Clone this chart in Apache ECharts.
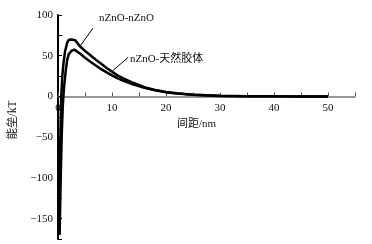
<!DOCTYPE html>
<html>
<head>
<meta charset="utf-8">
<script src="https://cdn.jsdelivr.net/npm/echarts@6/dist/echarts.min.js"></script>
<style>
  html, body { margin: 0; padding: 0; background: #fff; }
  #chart { width: 372px; height: 244px; }
</style>
</head>
<body>
<div id="chart"></div>
<script>
// 间距 (nm) / 能垒 (kT)
const znoZnoX = [0.15, 0.3, 0.45, 0.6, 0.8, 1.0, 1.3, 1.7, 2.0, 2.5, 3.2, 4, 5, 6, 7, 8, 9, 10, 11, 12, 14, 16, 18, 20, 22, 25, 30, 35, 40, 45, 50]
const znoZnoY = [-170, -110, -45, 0, 25, 40, 55, 66, 69.5, 70, 69, 62, 56, 50.5, 45, 40, 35, 30.5, 26, 22.5, 16.5, 11.5, 8, 5.5, 3.8, 2.2, 0.8, 0.3, 0.1, 0, 0]

const znoNomX = [0.3, 0.5, 0.7, 0.9, 1.1, 1.4, 1.7, 2.0, 2.5, 3.0, 4, 5, 6, 7, 8, 9, 10, 11, 12, 14, 16, 18, 20, 22, 25, 30, 35, 40, 45, 50]
const znoNomY = [-170, -100, -45, -10, 10, 30, 45, 52, 56, 57.5, 53, 47.5, 42.5, 38, 33.5, 29.5, 26, 22.5, 19.5, 14.5, 10.5, 7.5, 5, 3.5, 2, 0.6, 0.2, 0.1, 0, 0]

const seriesNames = ['nZnO-nZnO', 'nZnO-天然胶体']
// leader lines for the two labels: [start, end] in data coords
const leader1 = [[6.5, 84], [4.0, 61]]
const leader2 = [[13.0, 48], [10.2, 32]]

const xMin = 0, xMax = 55, xStep = 5
const yMin = -175, yMax = 100, yStep = 25

const font = "'Liberation Serif', 'Noto Sans CJK SC', serif"
const zip = (xs, ys) => xs.map((x, i) => [x, ys[i]])

const gridTop = 15, gridBottom = 5
const plotH = 244 - gridTop - gridBottom
// the x axis sits on y = 0, moved up from the grid bottom
const zeroOffset = -plotH * (0 - yMin) / (yMax - yMin)

const chart = echarts.init(document.getElementById('chart'))

chart.setOption({
  backgroundColor: '#fff',
  animation: false,
  grid: { left: 58, right: 17, top: gridTop, bottom: gridBottom, outerBoundsMode: 'none', containLabel: false },
  xAxis: {
    type: 'value',
    min: xMin,
    max: xMax,
    interval: xStep,
    position: 'bottom',
    offset: zeroOffset,
    name: '间距/nm',
    nameLocation: 'middle',
    nameGap: 21,
    nameTextStyle: { fontFamily: font, fontSize: 11, color: '#111', padding: [0, 20, 0, 0] },
    axisLine: { onZero: false, lineStyle: { color: '#777', width: 1.5 } },
    axisTick: { inside: true, length: 4, lineStyle: { color: '#555', width: 1 } },
    axisLabel: {
      fontFamily: font, fontSize: 11, color: '#111', margin: 6,
      formatter: v => (v % 10 === 0 && v <= 50 ? String(v) : '')
    },
    splitLine: { show: false }
  },
  yAxis: {
    type: 'value',
    min: yMin,
    max: yMax,
    interval: yStep,
    name: '能垒/kT',
    nameLocation: 'middle',
    nameGap: 39,
    nameRotate: 90,
    nameTextStyle: { fontFamily: font, fontSize: 11.5, color: '#111', padding: [0, 0, 0, 14] },
    axisLine: { show: true, onZero: false, lineStyle: { color: '#000', width: 2 } },
    axisTick: { inside: true, length: 4, lineStyle: { color: '#000', width: 1 } },
    axisLabel: {
      fontFamily: font, fontSize: 11, color: '#111', margin: 5,
      formatter: v => (v % 50 !== 0 ? '' : v < 0 ? '\u2212' + Math.abs(v) : String(v))
    },
    splitLine: { show: false }
  },
  series: [
    {
      name: seriesNames[0],
      type: 'line',
      data: zip(znoZnoX, znoZnoY),
      showSymbol: false,
      lineStyle: { color: '#000', width: 2.5 },
      markLine: {
        silent: true,
        symbol: 'none',
        lineStyle: { color: '#000', width: 1, type: 'solid' },
        label: { show: false },
        data: [[{ coord: leader1[0] }, { coord: leader1[1] }]]
      }
    },
    {
      name: seriesNames[1],
      type: 'line',
      data: zip(znoNomX, znoNomY),
      showSymbol: false,
      lineStyle: { color: '#000', width: 2.5 },
      markLine: {
        silent: true,
        symbol: 'none',
        lineStyle: { color: '#000', width: 1, type: 'solid' },
        label: { show: false },
        data: [[{ coord: leader2[0] }, { coord: leader2[1] }]]
      }
    }
  ],
  graphic: [
    {
      type: 'text', left: 99, top: 13,
      style: { text: seriesNames[0], font: '11px ' + font, fill: '#111' }
    },
    {
      type: 'text', left: 130, top: 54,
      style: { text: seriesNames[1], font: '11px ' + font, fill: '#111' }
    }
  ]
})
</script>
</body>
</html>
